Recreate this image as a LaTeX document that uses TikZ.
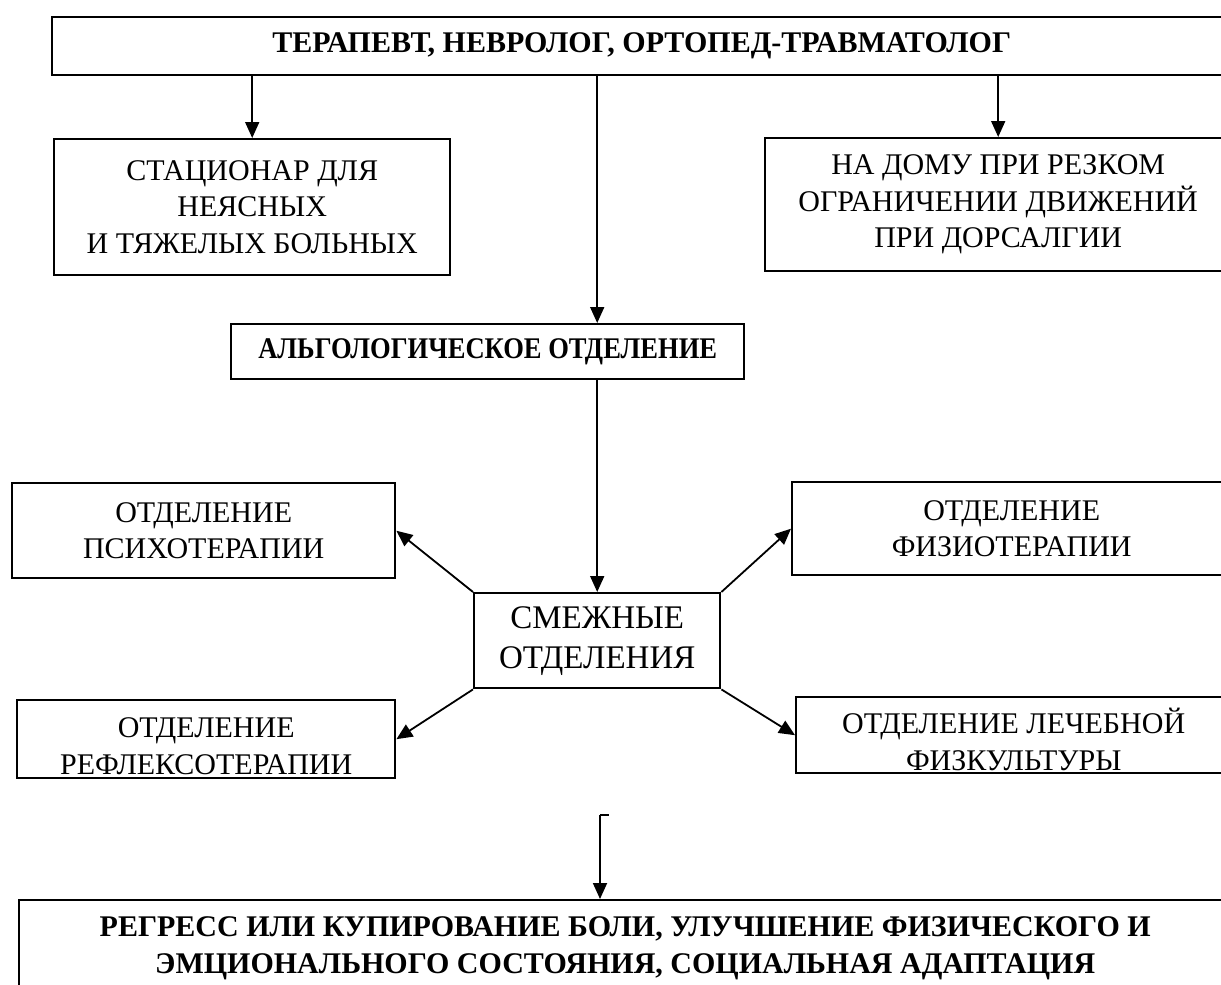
\documentclass[tikz,border=0pt]{standalone}
\usepackage{fontspec}
\setmainfont{Liberation Serif}
\usetikzlibrary{arrows.meta}

\def\pxl{0.5pt}

\begin{document}
\begin{tikzpicture}[x=0.5pt,y=-0.5pt,->,>={Triangle[length=8pt,width=7pt]},
                    line width=0.9pt]
\tikzstyle{box}=[rectangle,draw=black,line width=1.2pt,anchor=north west,inner sep=0pt,align=center]
\tikzstyle{bold}=[font=\fontsize{15pt}{18.25pt}\selectfont\bfseries]
\tikzset{font=\fontsize{15pt}{18.25pt}\selectfont}

\useasboundingbox (0,0) rectangle (1221,985);

        % top row
        \node[box, bold, minimum width=1179*\pxl, minimum height=58*\pxl] (top)  at (51,16)   {ТЕРАПЕВТ, НЕВРОЛОГ, ОРТОПЕД-ТРАВМАТОЛОГ};
        \node[box, minimum width=396*\pxl, minimum height=136*\pxl]    (stat)     at (53,138)  {СТАЦИОНАР ДЛЯ\\НЕЯСНЫХ\\И ТЯЖЕЛЫХ БОЛЬНЫХ};
        \node[box, minimum width=466*\pxl, minimum height=133*\pxl]    (home)     at (764,137) {НА ДОМУ ПРИ РЕЗКОМ\\ОГРАНИЧЕНИИ ДВИЖЕНИЙ\\ПРИ ДОРСАЛГИИ};

        \node[box, bold, minimum width=513*\pxl, minimum height=55*\pxl] (algo)   at (230,323) {\scalebox{0.885}[1]{АЛЬГОЛОГИЧЕСКОЕ ОТДЕЛЕНИЕ}};

        % departments round the middle box
        \node[box, minimum width=246*\pxl, minimum height=95*\pxl,
              font=\fontsize{16.5pt}{20pt}\selectfont]                 (smezh)    at (473,592) {СМЕЖНЫЕ\\ОТДЕЛЕНИЯ};
        \node[box, minimum width=383*\pxl, minimum height=95*\pxl]     (psych)    at (11,482)  {ОТДЕЛЕНИЕ\\ПСИХОТЕРАПИИ};
        \node[box, minimum width=439*\pxl, minimum height=93*\pxl]     (physio)   at (791,481) {ОТДЕЛЕНИЕ\\ФИЗИОТЕРАПИИ};
        \node[box, minimum width=378*\pxl, minimum height=78*\pxl]     (refl)     at (16,699)  {\rule{0pt}{17pt}ОТДЕЛЕНИЕ\\РЕФЛЕКСОТЕРАПИИ};
        \node[box, minimum width=435*\pxl, minimum height=76*\pxl]     (lfk)      at (795,696) {\rule{0pt}{17pt}ОТДЕЛЕНИЕ ЛЕЧЕБНОЙ\\ФИЗКУЛЬТУРЫ};

        % result
        \node[box, bold, minimum width=1212*\pxl, minimum height=96*\pxl] (result) at (18,899) {РЕГРЕСС ИЛИ КУПИРОВАНИЕ БОЛИ, УЛУЧШЕНИЕ ФИЗИЧЕСКОГО И\\ЭМЦИОНАЛЬНОГО СОСТОЯНИЯ, СОЦИАЛЬНАЯ АДАПТАЦИЯ};

        \coordinate (hook) at (600,815);

        \path[->]
        (top.south -| stat.north)   edge (stat.north)
        (top.south -| home.north)   edge (home.north)
        (top.south -| smezh.north)  edge (algo.north -| smezh.north)
        (algo.south -| smezh.north) edge (smezh.north)
        (smezh.north west) edge (psych.east)
        (smezh.north east) edge (physio.west)
        (smezh.south west) edge (refl.east)
        (smezh.south east) edge (lfk.west)
        ; %end path

        \draw[-] (hook) -- ++(9,0);
        \draw[->] (hook) -- (hook |- result.north);

\end{tikzpicture}
\end{document}
